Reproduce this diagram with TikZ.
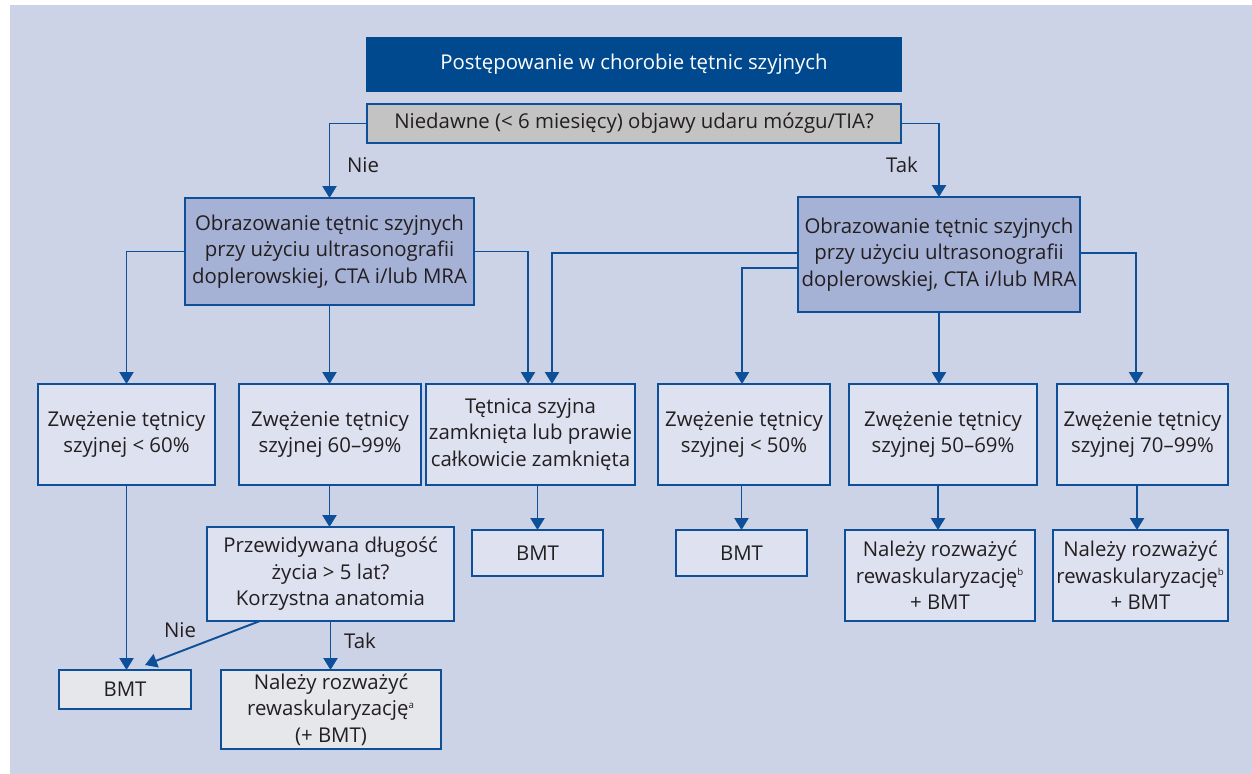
\documentclass[tikz,border=0pt]{standalone}
\usepackage{fontspec}
\setmainfont{Open Sans}
\usetikzlibrary{arrows.meta,calc}
\definecolor{bgc}{HTML}{CDD3E6}
\definecolor{lightbox}{HTML}{DDE1F0}
\definecolor{midbox}{HTML}{A5B1D5}
\definecolor{headc}{HTML}{00498F}
\definecolor{grayq}{HTML}{C3C3C3}
\definecolor{grayl}{HTML}{E6E7EB}
\definecolor{linec}{HTML}{0E4F9A}
\definecolor{txtc}{HTML}{231F20}
\newcommand\Bx[7]{\node[#6, minimum width={(#4-#2)*0.02cm}, minimum height={(#5-#3)*0.02cm}] (#1) at ({(#2+#4)/2},{(#3+#5)/2}) {#7};}
\newcommand\supx[1]{\textsuperscript{\fontsize{5.5}{5.5}\selectfont #1}}
\tikzset{
  basebox/.style={draw=linec, line width=1.1pt, inner sep=0pt, outer sep=0pt, align=center, text=txtc,
    font=\fontsize{11.6}{15.1}\selectfont},
  lbox/.style={basebox, fill=lightbox},
  mbox/.style={basebox, fill=midbox},
  gbox/.style={basebox, fill=grayq},
  glbox/.style={basebox, fill=grayl},
  hbox/.style={basebox, fill=headc, draw=headc, text=white},
  arr/.style={draw=linec, line width=1.1pt, -{Triangle[width=8pt,length=6.8pt]}},
  lab/.style={text=txtc, font=\fontsize{11.6}{15.1}\selectfont, inner sep=0pt}
}
\begin{document}
\begin{tikzpicture}[x=0.02cm,y=-0.02cm]
\useasboundingbox (0,0) rectangle (1252,774);
\fill[bgc] (10,5) rectangle (1252,774);
\Bx{H}{367}{38}{901}{91}{hbox}{Postępowanie w chorobie tętnic szyjnych}
\Bx{Q}{367}{104}{901}{143}{gbox}{Niedawne (< 6 miesięcy) objawy udaru mózgu/TIA?}
\Bx{L}{185}{198}{474}{305}{mbox}{Obrazowanie tętnic szyjnych\\przy użyciu ultrasonografii\\doplerowskiej, CTA i/lub MRA}
\Bx{R}{798}{197}{1080}{312}{mbox}{Obrazowanie tętnic szyjnych\\przy użyciu ultrasonografii\\doplerowskiej, CTA i/lub MRA}
\Bx{B1}{38}{384}{215}{485}{lbox}{Zwężenie tętnicy\\szyjnej < 60\%}
\Bx{B2}{239}{384}{421}{485}{lbox}{Zwężenie tętnicy\\szyjnej 60–99\%}
\Bx{B3}{426}{384}{635}{485}{lbox}{Tętnica szyjna\\zamknięta lub prawie\\całkowicie zamknięta}
\Bx{B4}{658}{384}{830}{485}{lbox}{Zwężenie tętnicy\\szyjnej < 50\%}
\Bx{B5}{849}{384}{1037}{485}{lbox}{Zwężenie tętnicy\\szyjnej 50–69\%}
\Bx{B6}{1057}{384}{1228}{485}{lbox}{Zwężenie tętnicy\\szyjnej 70–99\%}
\Bx{P}{207}{527}{454}{621}{lbox}{Przewidywana długość\\życia > 5 lat?\\Korzystna anatomia}
\Bx{BMTL}{59}{670}{191}{709}{glbox}{BMT}
\Bx{NA}{221}{670}{441}{749}{glbox}{Należy rozważyć\\rewaskularyzację\supx{a}\\(+ BMT)}
\Bx{BMT3}{472}{530}{603}{576}{lbox}{BMT}
\Bx{BMT4}{676}{530}{807}{576}{lbox}{BMT}
\Bx{N1}{845}{530}{1035}{621}{lbox}{Należy rozważyć\\rewaskularyzację\supx{b}\\+ BMT}
\Bx{N2}{1053}{530}{1228}{621}{lbox}{Należy rozważyć\\rewaskularyzację\supx{b}\\+ BMT}
% connectors
\draw[arr] (Q.west) -| (L.north);
\draw[arr] (Q.east) -| (R.north);
\node[lab] (nie1) at (363,165) {Nie};
\node[lab] (tak1) at (902,165) {Tak};
\draw[arr] (L.west) -| (B1.north);
\draw[arr] (L.south) -- (L.south |- B2.north);
\draw[arr] (L.east) -| ($(B3.north west)+(102,0)$);
\draw[arr] ($(R.north west)+(0,56)$) -| ($(B3.north west)+(126,0)$);
\draw[arr] ($(R.north west)+(0,71)$) -| ($(B4.north west)+(84,0)$);
\draw[arr] (R.south) -- (R.south |- B5.north);
\draw[arr] ($(R.north east)+(0,56)$) -| ($(B6.north west)+(79,0)$);
\draw[arr] (B1.south) -- (B1.south |- BMTL.north);
\draw[arr] (L.south |- B2.south) -- (L.south |- P.north);
\draw[arr] (P.south) -- (P.south |- NA.north);
\node[lab] (tak2) at (360,641) {Tak};
\draw[arr] ($(P.south west)+(53,0)$) -- ($(BMTL.north)+(20,-5)$);
\node[lab] (nie2) at (180,630) {Nie};
\draw[arr] (BMT3.north |- B3.south) -- (BMT3.north);
\draw[arr] (BMT4.north |- B4.south) -- (BMT4.north);
\draw[arr] ($(B5.south west)+(89,0)$) -- ($(B5.south west)+(89,45)$);
\draw[arr] ($(B6.south west)+(80,0)$) -- ($(B6.south west)+(80,45)$);
\end{tikzpicture}
\end{document}
